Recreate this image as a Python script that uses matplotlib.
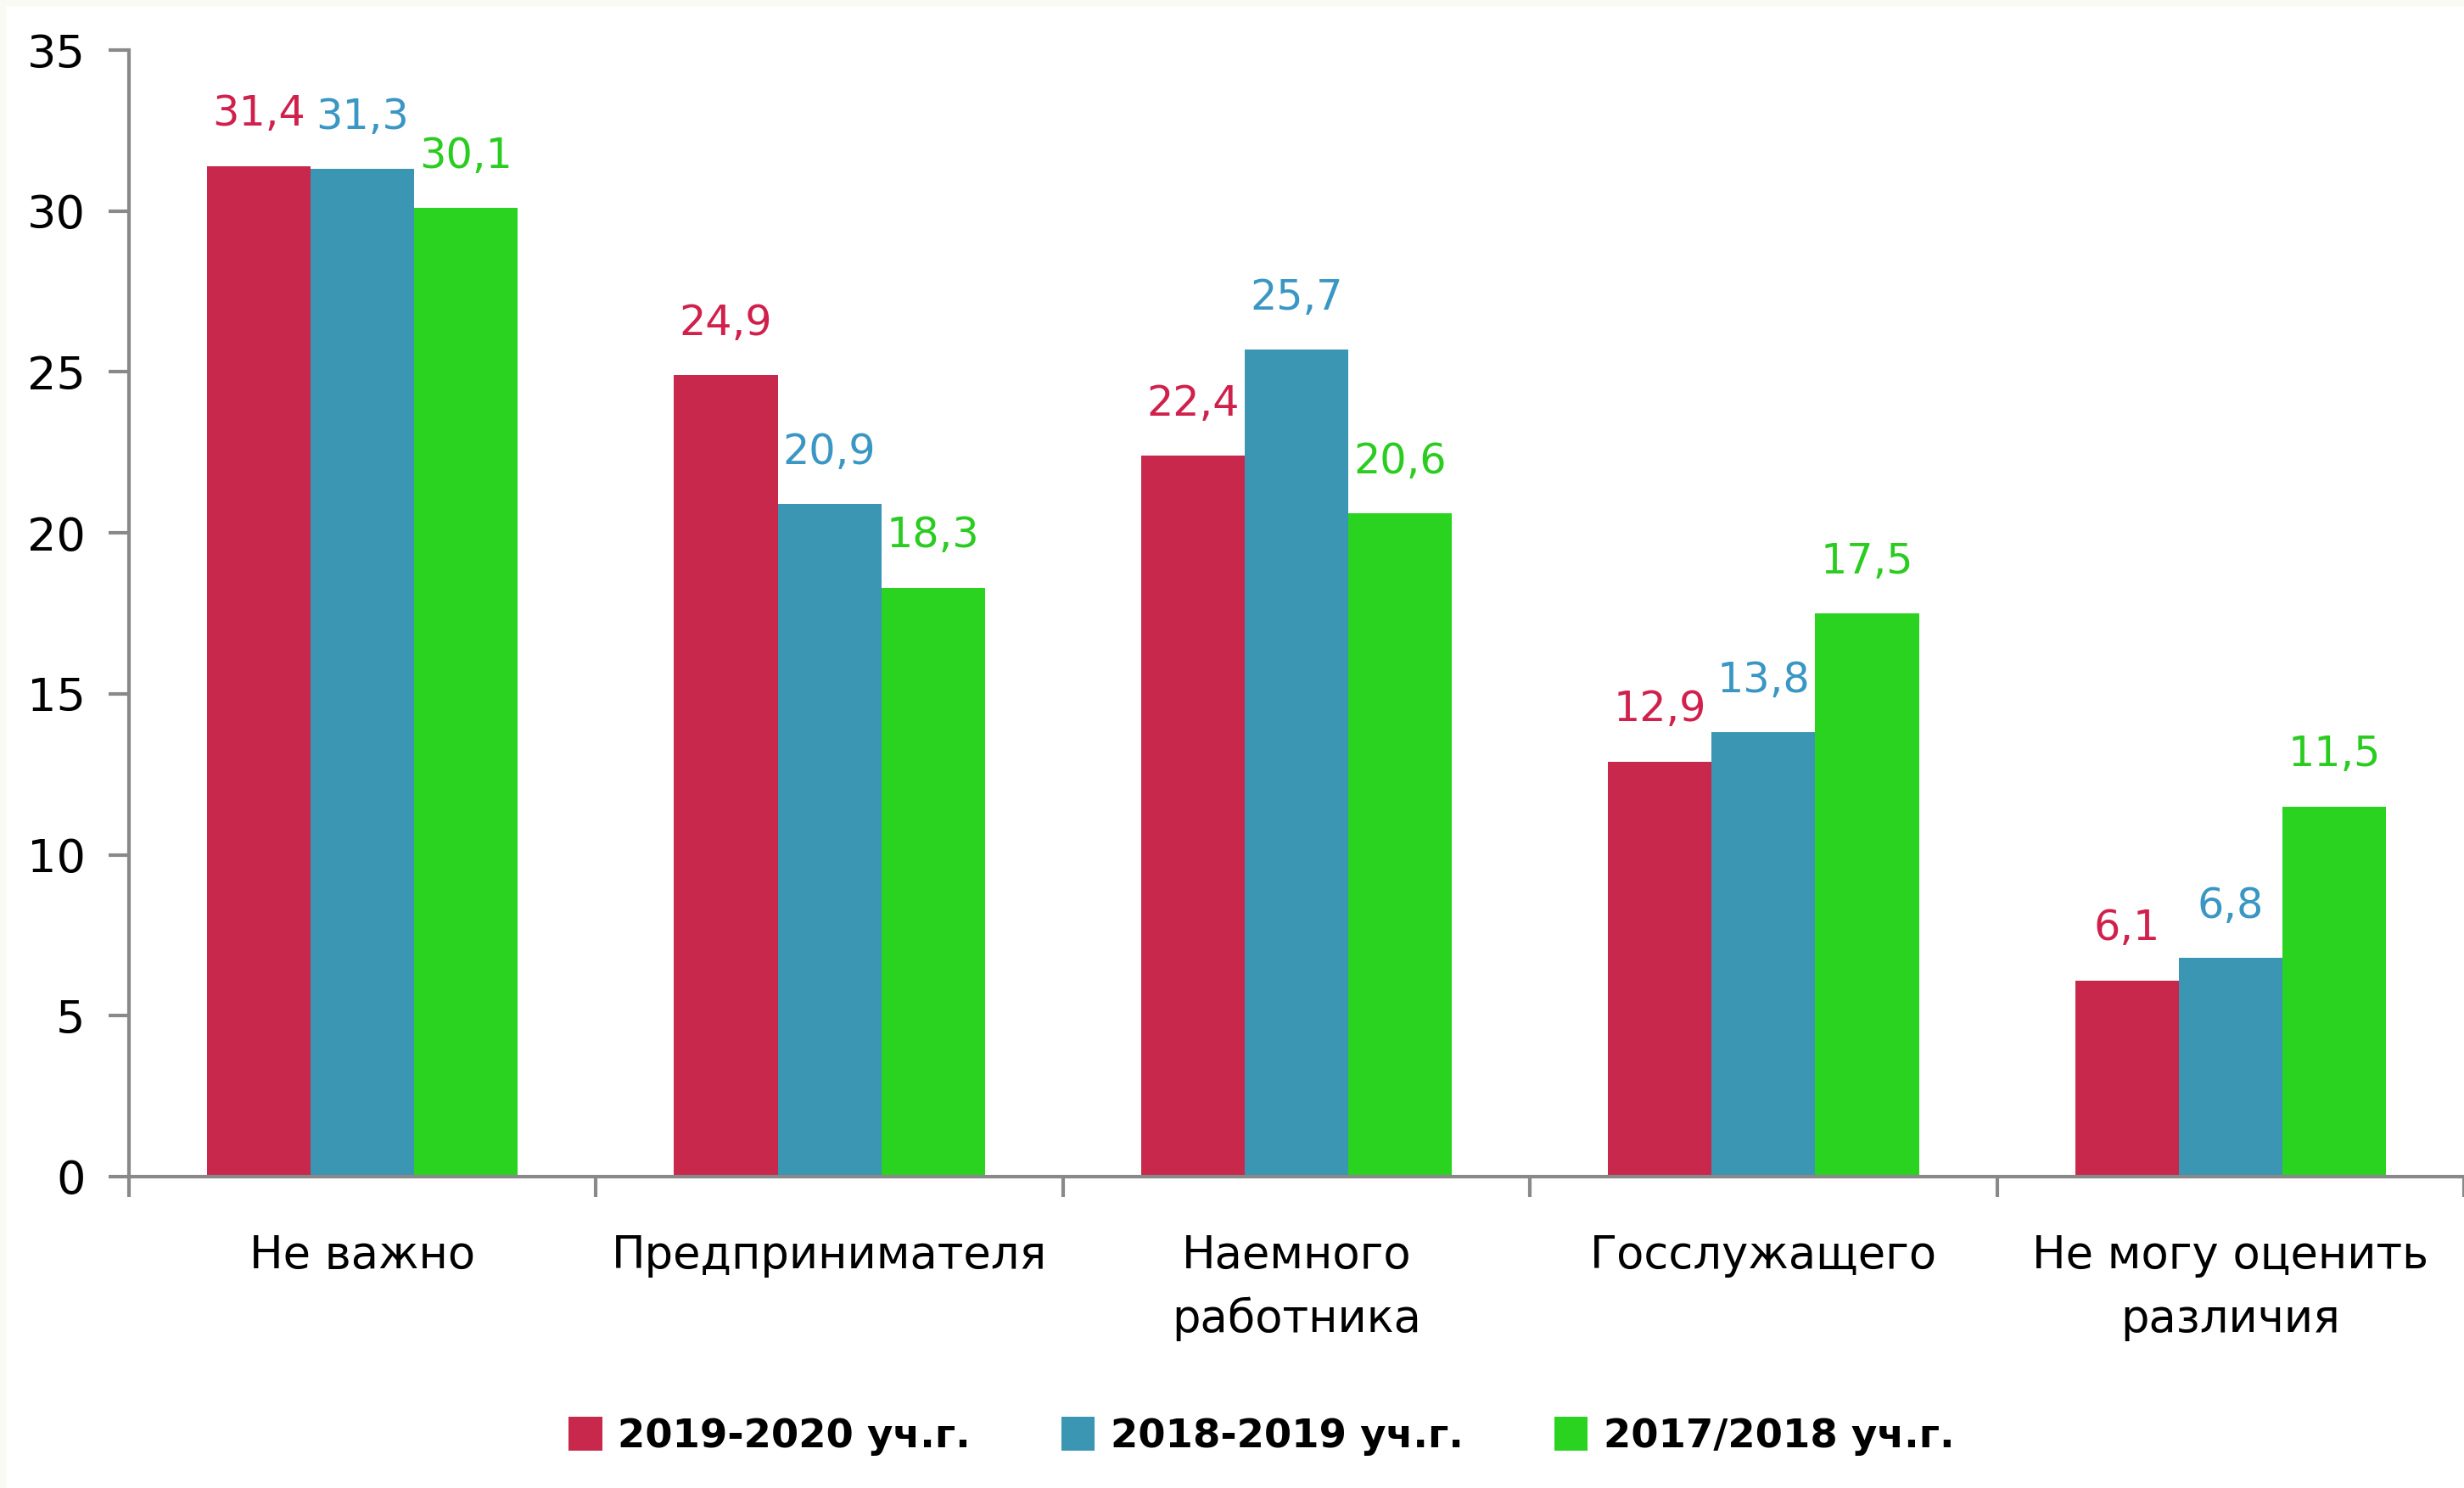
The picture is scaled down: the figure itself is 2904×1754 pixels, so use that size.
import matplotlib
matplotlib.use("Agg")
import matplotlib.pyplot as plt
import numpy as np
from matplotlib.patches import Rectangle

categories = ["Не важно", "Предпринимателя", "Наемного\nработника", "Госслужащего", "Не могу оценить\nразличия"]
series_names = ["2019-2020 уч.г.", "2018-2019 уч.г.", "2017/2018 уч.г."]
s2019 = [31.4, 24.9, 22.4, 12.9, 6.1]
s2018 = [31.3, 20.9, 25.7, 13.8, 6.8]
s2017 = [30.1, 18.3, 20.6, 17.5, 11.5]
yticks = [0, 5, 10, 15, 20, 25, 30, 35]

colors = ["#C8284C", "#3A96B2", "#29D320"]
label_colors = ["#D0204C", "#3A96C2", "#2ACC20"]

plt.rcParams['font.family'] = ['DejaVu Sans']

fig = plt.figure(figsize=(29.04, 17.54), dpi=100, facecolor="#FAFAF5")
fig.patches.append(Rectangle((8/2904, 0), 1, 1 - 8/1754, transform=fig.transFigure,
                             facecolor="white", edgecolor="none", zorder=-10))
ax = fig.add_axes([152/2904, 367/1754, 1 - 152/2904, (1695 - 367)/1754])
ax.set_facecolor("none")

x = np.arange(len(categories))
w = 0.222
for i, (vals, c, lc, name) in enumerate(zip([s2019, s2018, s2017], colors, label_colors, series_names)):
    bars = ax.bar(x + (i - 1) * w, vals, width=w, color=c, label=name, zorder=2)
    for b, v in zip(bars, vals):
        ax.annotate(f"{v:.1f}".replace(".", ","), (b.get_x() + b.get_width() / 2, v),
                    xytext=(0, 34), textcoords="offset points", ha="center", va="baseline",
                    fontsize=35.5, color=lc)

ax.set_xlim(-0.5, len(categories) - 0.5)
ax.set_ylim(0, 35)
ax.set_yticks(yticks)
ax.set_yticklabels([str(t) for t in yticks], fontsize=39)
ax.set_xticks(x)
ax.set_xticklabels(categories, fontsize=38, linespacing=1.56)
ax.set_xticks(np.arange(len(categories) + 1) - 0.5, minor=True)
ax.tick_params(axis="x", which="major", length=0, pad=48)
ax.tick_params(axis="x", which="minor", length=17, width=3, color="#898989")
ax.tick_params(axis="y", length=17, width=3, color="#898989", pad=20)
for side in ["top", "right"]:
    ax.spines[side].set_visible(False)
for side in ["left", "bottom"]:
    ax.spines[side].set_color("#898989")
    ax.spines[side].set_linewidth(3)

leg = fig.legend(loc="center", bbox_to_anchor=(0.512, 1 - 1693/1754), ncol=3, frameon=False,
                 prop={"size": 33.5, "weight": "bold"}, handlelength=0.85, handleheight=0.95,
                 handletextpad=0.4, columnspacing=2.3)

fig.savefig("out.png", dpi=100, facecolor=fig.get_facecolor())
